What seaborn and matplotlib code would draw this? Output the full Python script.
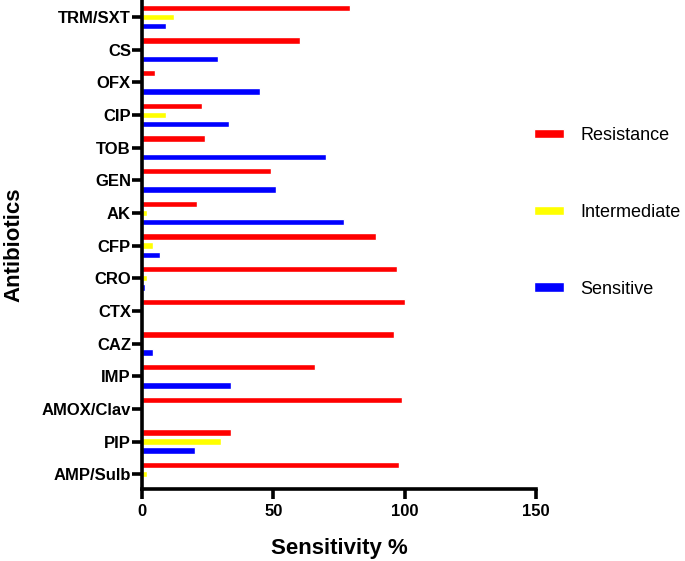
import matplotlib
matplotlib.use("Agg")
import matplotlib.pyplot as plt
import seaborn as sns
import pandas as pd

# Antibiotic sensitivity (%) per drug
antibiotics = ["TRM/SXT", "CS", "OFX", "CIP", "TOB", "GEN", "AK", "CFP",
               "CRO", "CTX", "CAZ", "IMP", "AMOX/Clav", "PIP", "AMP/Sulb"]
resistance = [79, 60, 5, 23, 24, 49, 21, 89, 97, 100, 96, 66, 99, 34, 98]
intermediate = [12, 0.5, 0, 9, 0, 0, 2, 4, 2, 0, 0, 0, 0.5, 30, 2]
sensitive = [9, 29, 45, 33, 70, 51, 77, 7, 1, 0, 4, 34, 0, 20, 0]

groups = ["Resistance", "Intermediate", "Sensitive"]
colors = ["#ff0000", "#ffff00", "#0000ff"]

df = pd.DataFrame({
    "Antibiotics": antibiotics * 3,
    "value": resistance + intermediate + sensitive,
    "group": [g for g in groups for _ in antibiotics],
})

sns.set_style("ticks")
plt.rcParams["font.family"] = ["Liberation Sans", "DejaVu Sans"]
plt.rcParams["text.color"] = "black"
plt.rcParams["axes.labelcolor"] = "black"
plt.rcParams["xtick.color"] = "black"
plt.rcParams["ytick.color"] = "black"
plt.rcParams["axes.edgecolor"] = "black"

fig = plt.figure(figsize=(6.85, 5.61), dpi=100)
ax = fig.add_axes([0.2073, 0.128, 0.5752, 0.872])

sns.barplot(data=df, x="value", y="Antibiotics", hue="group", order=antibiotics,
            hue_order=groups, palette=colors, saturation=1, orient="h",
            width=0.84, gap=0.3, ax=ax, legend=True)

ax.set_xlim(0, 150)
ax.set_xticks([0, 50, 100, 150])
ax.set_ylim(14.46, -0.52)
for s in ["top", "right"]:
    ax.spines[s].set_visible(False)
for s in ["left", "bottom"]:
    ax.spines[s].set_linewidth(2.6)
ax.tick_params(axis="both", width=2.6, length=7, labelsize=12)
ax.tick_params(axis="y", pad=1)
ax.tick_params(axis="x", pad=4)
for lab in ax.get_xticklabels() + ax.get_yticklabels():
    lab.set_fontweight("bold")

ax.set_xlabel("Sensitivity %", fontsize=16, fontweight="bold", labelpad=13)
ax.set_ylabel("Antibiotics", fontsize=16, fontweight="bold", labelpad=12)

ax.legend(loc="upper left", bbox_to_anchor=(0.78, 0.773), bbox_transform=fig.transFigure,
          frameon=False, fontsize=13, borderpad=0, borderaxespad=0,
          handlelength=1.67, handleheight=0.4, handletextpad=0.9, labelspacing=3.3)

plt.savefig("out.png", dpi=100)
plt.close()
